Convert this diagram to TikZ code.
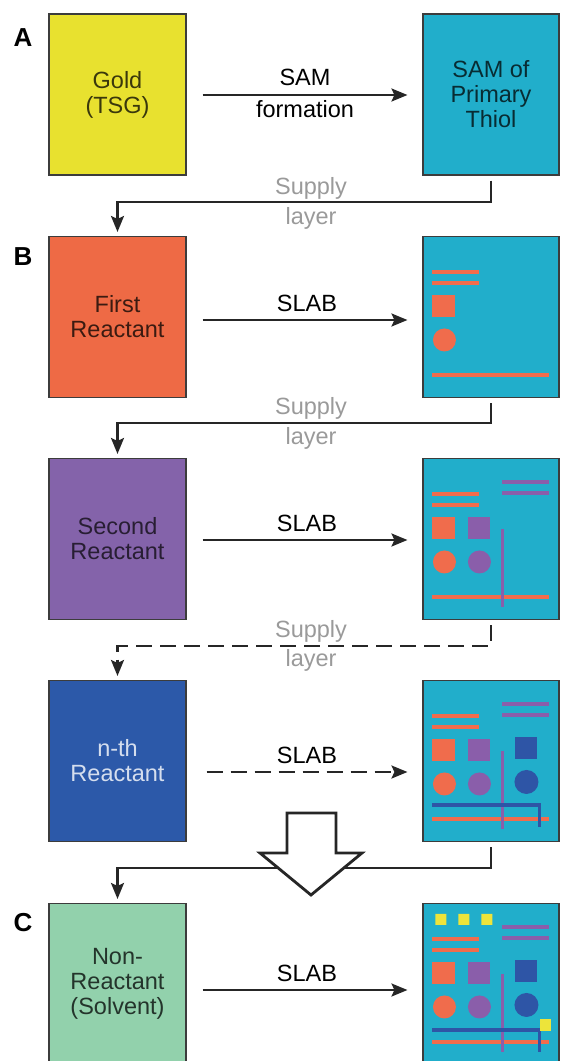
\documentclass[tikz,border=0pt]{standalone}
\usepackage{fontspec}
\setmainfont{Liberation Sans}
\usetikzlibrary{arrows.meta,calc}
\definecolor{goldc}{HTML}{E8E12F}
\definecolor{cyanc}{HTML}{21AECB}
\definecolor{orangec}{HTML}{EE6A45}
\definecolor{purplec}{HTML}{8463AA}
\definecolor{bluec}{HTML}{2C59A9}
\definecolor{greenc}{HTML}{92D1AC}
\definecolor{porange}{HTML}{F06C4C}
\definecolor{ppurple}{HTML}{8A5EAA}
\definecolor{pblue}{HTML}{2E55A6}
\definecolor{pyellow}{HTML}{EDE43A}
\definecolor{bordc}{HTML}{3C3C3C}
\definecolor{grayt}{HTML}{9A9A9A}
\tikzset{
  box/.style={draw=bordc, line width=1.1pt, minimum width=137pt, minimum height=161pt, align=center, inner sep=0pt,
    font=\fontsize{23.5}{25}\selectfont},
  rbox/.style={box, fill=cyanc, minimum width=136pt},
  letter/.style={font=\fontsize{26}{28}\selectfont\bfseries, inner sep=0pt},
  lbl/.style={font=\fontsize{23.5}{25}\selectfont, inner sep=0pt, anchor=base},
  supply/.style={lbl, text=grayt},
  conn/.style={line width=2.3pt, draw=black!85, -{Stealth[length=16pt,width=13pt,inset=3pt]}},
  dashconn/.style={conn, dash pattern=on 16pt off 8pt},
  pline/.style={line width=3.6pt},
}
\begin{document}
\begin{tikzpicture}[x=1pt,y=-1pt]
\clip (0,0) rectangle (562,1061);
\useasboundingbox (0,0) rectangle (562,1061);
\fill[white] (0,0) rectangle (562,1061);

% letters
\node[letter] (lA) at (23,38) {A};
\node[letter] (lB) at (23,257) {B};
\node[letter] (lC) at (23,923) {C};

% left boxes
\node[box, fill=goldc, text=black!75!goldc] (L1) at (117.5,94.5) {Gold\\(TSG)};
\node[box, fill=orangec, text=black!75!orangec] (L2) at (117.5,317) {First\\Reactant};
\node[box, fill=purplec, text=black!70!purplec] (L3) at (117.5,539) {Second\\Reactant};
\node[box, fill=bluec, text=white!80!bluec] (L4) at (117.5,761) {n-th\\Reactant};
\node[box, fill=greenc, text=black!75!greenc] (L5) at (117.5,984) {Non-\\Reactant\\(Solvent)};

% right boxes
\node[rbox, text=black!75!cyanc] (R1) at (491,94.5) {SAM of\\Primary\\Thiol};
\node[rbox] (R2) at (491,317) {};
\node[rbox] (R3) at (491,539) {};
\node[rbox] (R4) at (491,761) {};
\node[rbox] (R5) at (491,984) {};

% horizontal process arrows
\coordinate (a1) at (0,95);
\coordinate (a2) at (0,320);
\coordinate (a3) at (0,540);
\coordinate (a4) at (0,772);
\coordinate (a5) at (0,990);
\draw[conn, shorten <=16pt, shorten >=15pt] (L1.east |- a1) -- (R1.west |- a1);
\draw[conn, shorten <=16pt, shorten >=15pt] (L2.east |- a2) -- (R2.west |- a2);
\draw[conn, shorten <=16pt, shorten >=15pt] (L3.east |- a3) -- (R3.west |- a3);
\draw[dashconn, shorten <=20pt, shorten >=15pt] (L4.east |- a4) -- (R4.west |- a4);
\draw[conn, shorten <=16pt, shorten >=15pt] (L5.east |- a5) -- (R5.west |- a5);

\node[lbl] (t1a) at (305,85) {SAM};
\node[lbl] (t1b) at (305,117) {formation};
\node[lbl] (t2) at (307,311) {SLAB};
\node[lbl] (t3) at (307,531) {SLAB};
\node[lbl] (t4) at (307,763) {SLAB};
\node[lbl] (t5) at (307,981) {SLAB};

% supply connectors
\coordinate (h1) at (0,202);
\coordinate (h2) at (0,423);
\coordinate (h3) at (0,646);
\coordinate (h4) at (0,868);
\draw[conn, shorten <=5pt, shorten >=4pt] (R1.south) -- (R1.south |- h1) -| (L2.north);
\draw[conn, shorten <=5pt, shorten >=4pt] (R2.south) -- (R2.south |- h2) -| (L3.north);
\draw[dashconn, shorten <=5pt, shorten >=4pt] (R3.south) -- (R3.south |- h3) -| (L4.north);
\draw[conn, shorten <=5pt, shorten >=4pt] (R4.south) -- (R4.south |- h4) -| (L5.north);

\node[supply] (s1a) at (311,194) {Supply};
\node[supply] (s1b) at (311,224) {layer};
\node[supply] (s2a) at (311,414) {Supply};
\node[supply] (s2b) at (311,444) {layer};
\node[supply] (s3a) at (311,637) {Supply};
\node[supply] (s3b) at (311,666) {layer};

% big hollow arrow
\draw[line width=2.8pt, draw=black!85, fill=white, line join=miter]
  (287,813) -- (336,813) -- (336,853) -- (362,853) -- (311,895) -- (260,853) -- (287,853) -- cycle;

% patterns
\begin{scope}[shift={(R2.north west)}]
  \draw[pline, porange] (10,36) -- (57,36) (10,47) -- (57,47) (10,139) -- (127,139);
  \fill[porange] (10,59) rectangle (33,81);
  \fill[porange] (22,104) circle (11.5);
\end{scope}
\begin{scope}[shift={(R3.north west)}]
  \draw[pline, porange] (10,36) -- (57,36) (10,47) -- (57,47) (10,139) -- (127,139);
  \draw[pline, ppurple] (80,24) -- (127,24) (80,35) -- (127,35) (80,71) -- (80,149);
  \fill[porange] (10,59) rectangle (33,81);
  \fill[ppurple] (46,59) rectangle (68,81);
  \fill[porange] (22,104) circle (11.5);
  \fill[ppurple] (57,104) circle (11.5);
\end{scope}
\begin{scope}[shift={(R4.north west)}]
  \draw[pline, porange] (10,36) -- (57,36) (10,47) -- (57,47) (10,139) -- (127,139);
  \draw[pline, ppurple] (80,24) -- (127,24) (80,35) -- (127,35) (80,71) -- (80,149);
  \draw[pline, pblue, line join=miter] (10,125) -- (117,125) -- (117,147);
  \fill[porange] (10,59) rectangle (33,81);
  \fill[ppurple] (46,59) rectangle (68,81);
  \fill[pblue] (93,57) rectangle (115,79);
  \fill[porange] (22,104) circle (11.5);
  \fill[ppurple] (57,104) circle (11.5);
  \fill[pblue] (104,102) circle (12);
\end{scope}
\begin{scope}[shift={(R5.north west)}]
  \draw[pline, porange] (10,36) -- (57,36) (10,47) -- (57,47) (10,139) -- (127,139);
  \draw[pline, ppurple] (80,24) -- (127,24) (80,35) -- (127,35) (80,71) -- (80,149);
  \draw[pline, pblue, line join=miter] (10,127) -- (117,127) -- (117,149);
  \fill[porange] (10,59) rectangle (33,81);
  \fill[ppurple] (46,59) rectangle (68,81);
  \fill[pblue] (93,57) rectangle (115,79);
  \fill[porange] (22,104) circle (11.5);
  \fill[ppurple] (57,104) circle (11.5);
  \fill[pblue] (104,102) circle (12);
  \fill[pyellow] (13,11) rectangle (24,22) (36,11) rectangle (47,22) (59,11) rectangle (70,22);
  \fill[pyellow] (118,116) rectangle (129,128);
\end{scope}
\end{tikzpicture}
\end{document}
